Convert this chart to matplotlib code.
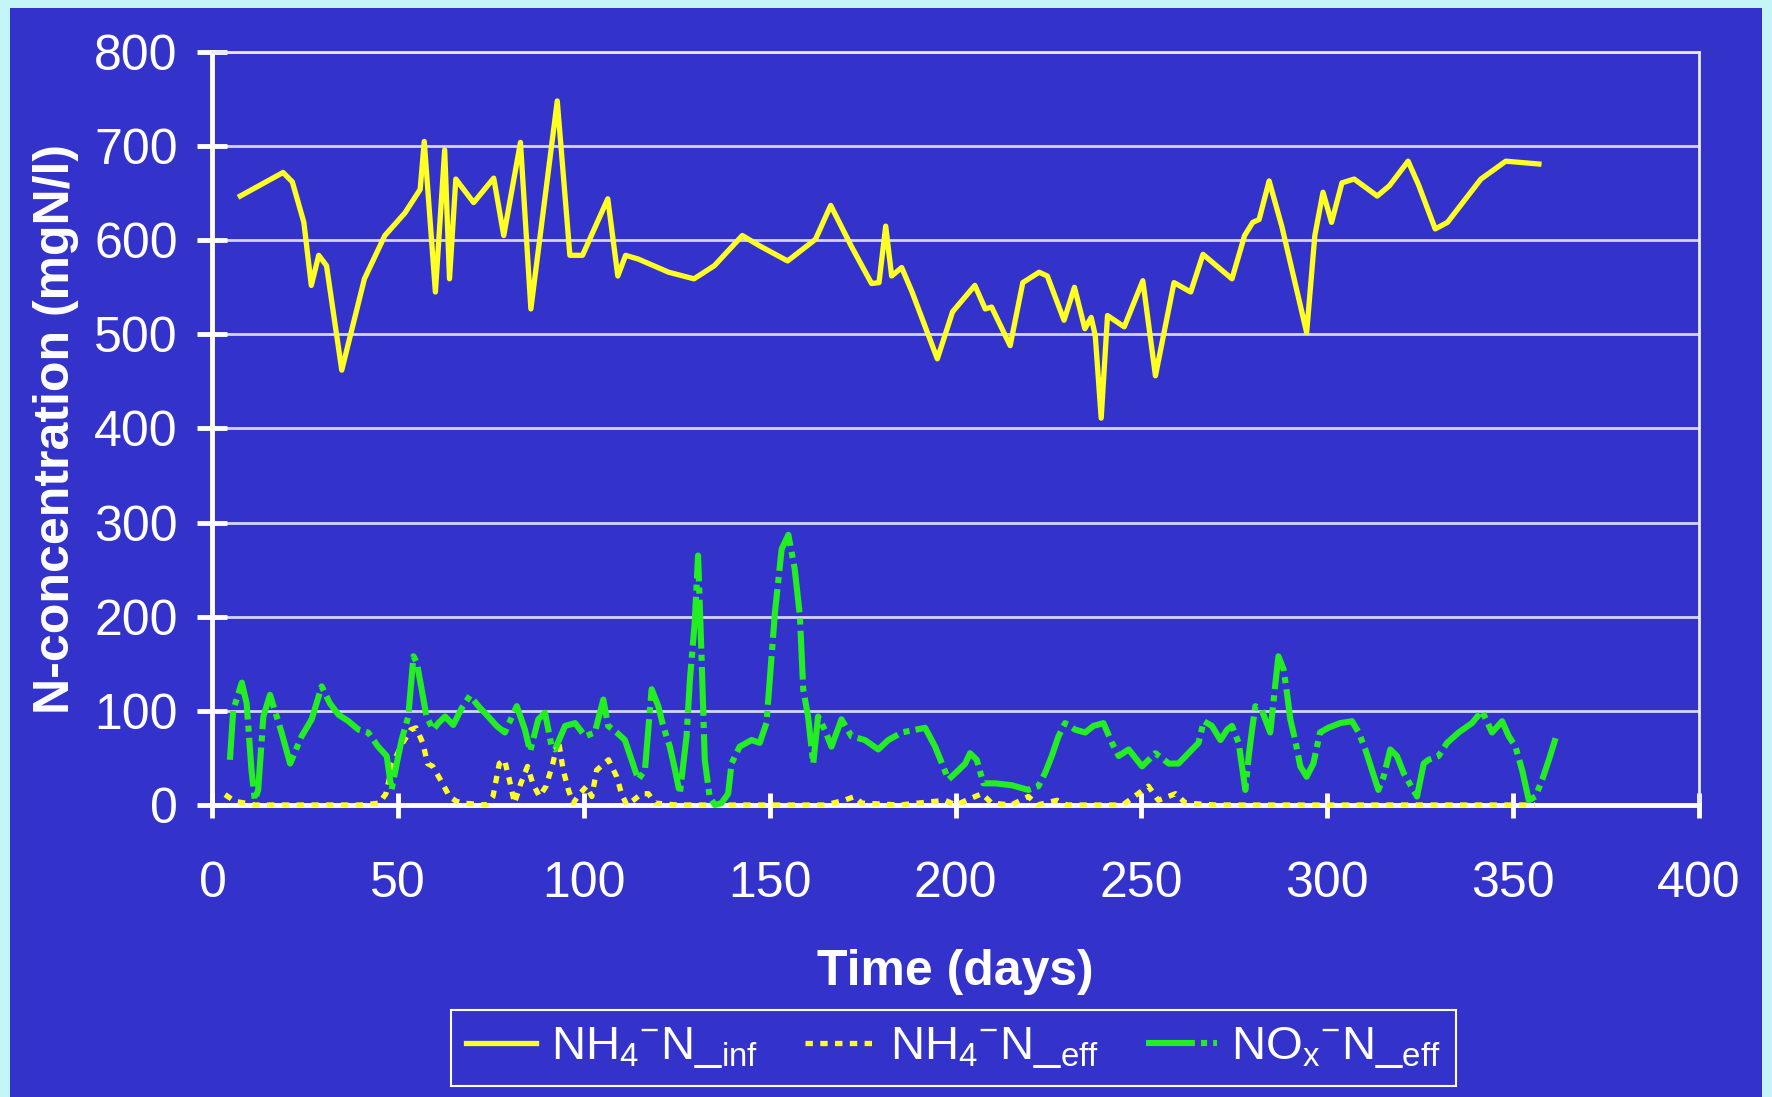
import matplotlib
matplotlib.use("Agg")
import matplotlib.pyplot as plt
from matplotlib.patches import Rectangle

plt.rcParams['font.family'] = ['Liberation Sans', 'DejaVu Sans']
plt.rcParams['mathtext.fontset'] = 'custom'
plt.rcParams['mathtext.rm'] = 'Liberation Sans'
plt.rcParams['mathtext.it'] = 'Liberation Sans'

# NH4-N influent (solid yellow)
inf_days = [7.5, 19, 21.5, 24.6, 26.6, 28.6, 30.7, 34.8, 40.9, 46.4,
            51.8, 55.9, 57.0, 60.0, 62.5, 63.8, 65.5, 70.3, 75.7, 78.4,
            82.9, 85.7, 92.8, 96.2, 99.6, 106.4, 109.1, 111.2, 114.6, 122.8,
            129.6, 135.1, 142.6, 147.3, 154.8, 162.3, 166.4, 171.9, 177.4, 179.4,
            181.2, 182.8, 185.5, 188.3, 195.1, 199.2, 205.2, 208, 209.7, 214.7,
            218.1, 222.5, 224.7, 229.2, 232, 234.8, 236.5, 237.6, 239.2, 240.9,
            245.4, 250.4, 253.8, 258.8, 263.3, 266.6, 274.4, 277.8, 280, 281.7,
            284.4, 287.8, 294.5, 296.7, 298.9, 301.2, 304, 307.3, 313.5, 316.8,
            321.8, 324.6, 329.1, 332.4, 341.4, 348.1, 357]
inf_vals = [647, 672, 662, 619, 552, 584, 573, 462, 559, 605,
            629, 654, 705, 545, 696, 559, 665, 640, 666, 605,
            704, 527, 748, 584, 584, 644, 562, 584, 580, 566,
            559, 573, 605, 594, 578, 601, 637, 594, 554, 555,
            615, 562, 571, 545, 474, 524, 552, 527, 529, 488,
            555, 566, 562, 515, 550, 506, 518, 499, 411, 520,
            508, 557, 456, 555, 545, 585, 559, 605, 619, 622,
            663, 615, 502, 605, 651, 619, 661, 665, 647, 658,
            684, 659, 612, 619, 665, 684, 681]

# NH4-N effluent (yellow dotted)
eff_days = [3.4, 6, 11.4, 20, 30, 40, 44.9, 46.7, 48.5, 51.2,
            53.4, 54.8, 56.6, 57.9, 59.3, 61.9, 63.8, 65.6, 67.4, 73.7,
            75.5, 77.2, 78.6, 79.9, 81.3, 83, 84.8, 86.2, 88, 89.8,
            91.6, 93.1, 94.4, 95.8, 97.1, 98.9, 100.7, 102.1, 103.4, 106.6,
            108.8, 110.1, 111.5, 113.3, 115.5, 117.3, 119.1, 125, 140, 150,
            165, 170, 172.9, 174.7, 185, 197.2, 200, 205.3, 207.1, 209.7,
            215, 219.6, 222, 227.3, 230, 245, 251.9, 254.6, 259.2, 261.9,
            270, 290, 310, 330, 345, 356]
eff_vals = [11, 4, 0, 0, 0, 0, 2, 12, 44, 66,
            80, 82, 66, 44, 41, 23, 9, 4, 2, 0,
            9, 44, 48, 27, 2, 23, 41, 23, 9, 20,
            44, 69, 37, 16, 2, 12, 20, 9, 37, 48,
            30, 12, 0, 5, 12, 12, 2, 0, 0, 0,
            0, 5, 9, 2, 0, 5, 0, 9, 12, 2,
            0, 9, 0, 5, 0, 0, 20, 5, 12, 2,
            0, 0, 0, 0, 0, 0]

# NOx-N effluent (green dash-dot)
nox_days = [4.7, 5.6, 7.9, 9.2, 10.5, 11.4, 12.3, 13.7, 15.5, 17.3,
            18.6, 20.9, 24, 26.7, 29.4, 31.6, 33.9, 36.6, 39.3, 41.9,
            44.6, 46.9, 48.2, 49.6, 50.9, 52.7, 54.1, 55, 56.3, 57.6,
            59.4, 60.8, 62.6, 64.8, 67.1, 69.3, 71.6, 74.2, 76.5, 78.7,
            81.9, 84.1, 85.5, 87.7, 89.5, 91.3, 92.2, 94.9, 97.6, 100.3,
            102.9, 105.2, 106.5, 108.8, 111, 112.8, 114.6, 116.4, 118.2, 120,
            121.3, 123.1, 124.5, 125.8, 127.6, 128.5, 129.8, 130.7, 131.6, 132.5,
            133.8, 135.2, 137, 138.8, 139.7, 141.9, 145.1, 147.3, 149.1, 150,
            151.4, 153.2, 155, 156.7, 158.1, 159, 160.3, 161.7, 163, 164.8,
            166.6, 169.3, 172, 175.6, 179.2, 181.9, 185.5, 191.8, 194.5, 198.1,
            200.8, 202.6, 203.9, 205.7, 207.5, 210.7, 215.1, 219.6, 222.3, 224.1,
            225.9, 227.7, 229.5, 232.2, 234.9, 237.1, 239.8, 242.1, 243.9, 246.6,
            250.2, 253.8, 257.4, 260, 262.7, 265.4, 266.8, 269, 271.3, 273.1,
            274.4, 276.2, 278, 278.9, 279.8, 280.7, 282.4, 284.7, 286, 286.9,
            288.3, 289.2, 290.1, 291.4, 292.8, 294.5, 296.3, 298.1, 300.3, 303.5,
            306.7, 308.5, 310.3, 312.1, 313.8, 315.2, 317, 318.8, 320.6, 324.2,
            326, 327.3, 330, 332.3, 335.4, 339, 341.7, 344.4, 347.1, 348.9,
            350.7, 352.5, 354.3, 356.1, 357.9, 359.7, 361.5]
nox_vals = [48, 101, 130, 108, 37, 5, 16, 94, 117, 94,
            77, 44, 73, 91, 126, 108, 96, 89, 80, 77,
            62, 52, 16, 44, 69, 94, 158, 151, 123, 94,
            80, 87, 94, 85, 103, 116, 105, 94, 84, 77,
            105, 80, 57, 91, 98, 62, 59, 84, 87, 73,
            77, 112, 84, 77, 69, 48, 27, 37, 123, 105,
            84, 62, 37, 12, 73, 133, 194, 265, 162, 48,
            9, 0, 2, 12, 44, 62, 69, 66, 87, 133,
            205, 272, 287, 251, 201, 123, 94, 44, 94, 80,
            62, 91, 73, 69, 59, 69, 77, 82, 62, 27,
            37, 44, 55, 48, 23, 23, 21, 16, 20, 34,
            52, 73, 87, 80, 77, 84, 87, 66, 52, 59,
            41, 55, 44, 44, 55, 66, 89, 84, 69, 80,
            84, 66, 16, 52, 80, 105, 101, 77, 126, 158,
            144, 119, 91, 69, 41, 30, 44, 77, 82, 87,
            89, 77, 59, 37, 16, 30, 59, 52, 34, 9,
            44, 48, 52, 66, 77, 87, 100, 77, 89, 73,
            62, 37, 5, 9, 27, 48, 71]

x_ticks = list(range(0, 401, 50))
y_ticks = list(range(0, 801, 100))

BLUE = '#3333CC'
YELLOW = '#FFFF22'
GREEN = '#22EE22'

fig = plt.figure(figsize=(17.72, 10.97), dpi=100)
fig.patch.set_facecolor('#C4F6F8')
fig.add_artist(Rectangle((10 / 1772, 0), 1752 / 1772, 1089 / 1097,
                         transform=fig.transFigure, facecolor=BLUE,
                         edgecolor='none', zorder=-5))

ax = fig.add_axes([0.1199, 0.2662, 0.8387, 0.6864])
ax.set_facecolor(BLUE)
ax.set_xlim(0, 400)
ax.set_ylim(0, 800)
ax.set_xticks(x_ticks)
ax.set_yticks(y_ticks)
ax.grid(axis='y', color='#D4D4FF', lw=2)
ax.set_axisbelow(True)

for side in ['left', 'bottom']:
    ax.spines[side].set_color('white')
    ax.spines[side].set_linewidth(3.5)
for side in ['top', 'right']:
    ax.spines[side].set_color('#E8E8FF')
    ax.spines[side].set_linewidth(2)

ax.tick_params(axis='both', colors='white', labelsize=36, direction='inout',
               width=3.5)
ax.tick_params(axis='y', length=22, pad=14)
ax.tick_params(axis='x', length=18, pad=31)

ax.plot(inf_days, inf_vals, color=YELLOW, lw=3.8, zorder=4,
        solid_joinstyle='round', label=r'NH$_4$$^{-}$N_$_{inf}$')
ax.plot(eff_days, eff_vals, color=YELLOW, lw=3.8, zorder=4, clip_on=False,
        linestyle=(0, (1.4, 1.4)), label=r'NH$_4$$^{-}$N_$_{eff}$')
ax.plot(nox_days, nox_vals, color=GREEN, lw=4.4, zorder=5, clip_on=False,
        linestyle=(0, (8, 1, 1, 1)), label=r'NO$_x$$^{-}$N_$_{eff}$')

fig.text(0.539, 0.114, 'Time (days)', color='white', fontsize=36,
         fontweight='bold', ha='center', va='center')
fig.text(0.0316, 0.609, 'N-concentration (mgN/l)', color='white', fontsize=36,
         fontweight='bold', ha='center', va='center', rotation=90)

leg = ax.legend(loc='center', bbox_to_anchor=(0.538, 0.0447),
                bbox_transform=fig.transFigure, ncol=3, fontsize=34,
                frameon=True, fancybox=False, facecolor=BLUE,
                edgecolor='white', handlelength=1.5, columnspacing=1.0,
                handletextpad=0.3, borderpad=0.32, framealpha=1)
leg.get_frame().set_linewidth(1.5)
for t in leg.get_texts():
    t.set_color('white')

fig.savefig('out.png', dpi=100, facecolor=fig.get_facecolor())
